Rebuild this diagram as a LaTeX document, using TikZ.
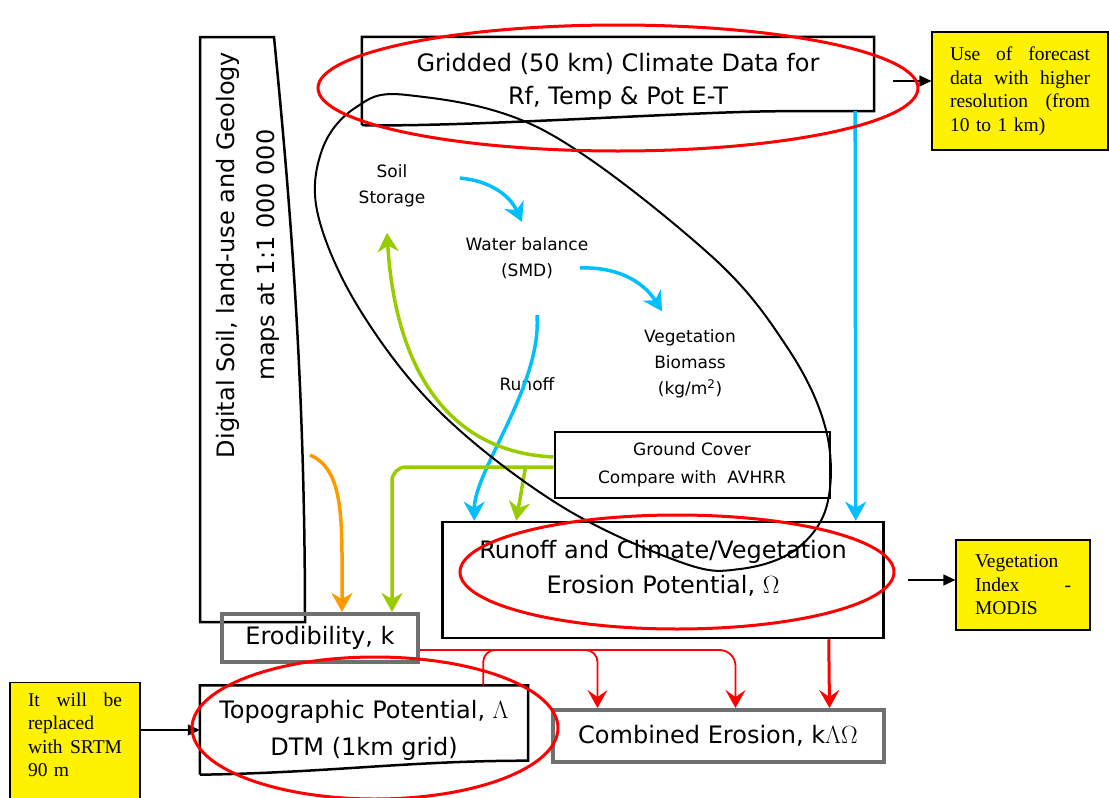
\documentclass[tikz,border=0pt]{standalone}
\usepackage{fontspec}
\setmainfont{Liberation Serif}
\newfontfamily\comic{DejaVu Sans}
\usetikzlibrary{arrows.meta}
\definecolor{skyb}{RGB}{0,191,255}
\definecolor{leaf}{RGB}{153,204,0}
\definecolor{amber}{RGB}{255,153,0}
\definecolor{boxgray}{RGB}{112,112,112}

\begin{document}
\begin{tikzpicture}[x=1pt,y=-1pt,>=Latex,
  bigtext/.style={font=\comic\fontsize{24}{33}\selectfont,align=center},
  smalltext/.style={font=\comic\fontsize{17}{26}\selectfont,align=center},
  blackbox/.style={draw,line width=2.5pt},
  greybox/.style={draw=boxgray,line width=4pt},
  note/.style={draw,line width=1.2pt,fill=yellow,font=\fontsize{19.5}{23.5}\selectfont,align=left,inner xsep=18pt},
  skyarr/.style={skyb,line width=3.5pt,-{Stealth[length=19pt,width=21pt,inset=6pt]}},
  leafarr/.style={leaf,line width=3.5pt,-{Stealth[length=19pt,width=21pt,inset=6pt]}},
  amberarr/.style={amber,line width=3.5pt,-{Stealth[length=19pt,width=21pt,inset=6pt]}},
  redarr/.style={red,line width=1.8pt,-{Stealth[length=18pt,width=20pt,inset=7pt]}},
  notearr/.style={line width=1.2pt,-{Triangle[length=12pt,width=11pt]}},
  ring/.style={red,line width=3pt}]
\useasboundingbox (0,0) rectangle (1109,798);
\clip (0,0) rectangle (1109,798);

\node[bigtext,minimum width=512pt,minimum height=88pt] (clim) at (618,81) {Gridded (50 km) Climate Data for\\Rf, Temp \& Pot E-T};
\draw[blackbox] (clim.south west) -- (clim.north west) -- (clim.north east) -- ([yshift=14pt]clim.south east) -- ++(-90,0) .. controls +(-90,0) and +(110,2) .. (clim.south west);
\node[bigtext,rotate=90,font=\comic\fontsize{24}{40}\selectfont] (digi) at (248,255) {Digital Soil, land-use and Geology\\maps at 1:1 000 000};
\draw[blackbox] (200,37) -- (274,37) .. controls (290,200) and (305,380) .. (305,622) -- (200,622) -- cycle;
\coordinate (digiout) at (310,455);

\node[smalltext] (soil) at (392,186) {Soil\\Storage};
\node[smalltext] (wb) at (527,258) {Water balance\\(SMD)};
\node[smalltext] (veg) at (690,364) {Vegetation\\Biomass\\(kg/m\textsuperscript{2})};
\node[smalltext] (runoff) at (527,384) {Runoff};
\node[smalltext,draw,line width=2pt,minimum width=275pt,minimum height=66pt,font=\comic\fontsize{17}{28}\selectfont] (gc) at (692,465) {Ground Cover\\Compare with~~AVHRR};
\node[bigtext,blackbox,minimum width=441pt,minimum height=116pt,text depth=26pt,font=\comic\fontsize{24}{35}\selectfont] (ero) at (663,580) {Runoff and Climate/Vegetation\\Erosion Potential, $\Omega$};
\node[bigtext,greybox,minimum width=196pt,minimum height=48pt] (erod) at (320,638) {Erodibility, k};
\node[bigtext,minimum width=328pt,minimum height=89pt,font=\comic\fontsize{24}{37}\selectfont] (topo) at (364,730) {Topographic Potential, $\Lambda$\\DTM (1km grid)};
\draw[blackbox] (topo.south west) -- (topo.north west) -- (topo.north east) -- ([yshift=14pt]topo.south east) .. controls +(-120,0) and +(130,-2) .. (topo.south west);
\node[bigtext,greybox,minimum width=331pt,minimum height=52pt] (comb) at (718,736) {Combined Erosion, k$\Lambda\Omega$};

\node[note,text width=140pt,minimum height=118pt] (fc) at (1020,91) {Use\hfill of\hfill forecast\\data\hfill with\hfill higher\\resolution\hfill (from\\10 to 1 km)};
\node[note,text width=96pt,inner xsep=19pt,minimum height=90pt] (ndvi) at (1023,585) {Vegetation\\Index\hfill -\\MODIS};
\node[note,text width=94pt,inner ysep=10pt,text depth=115pt,anchor=north] (srtm) at (75,682) {It\hfill will\hfill be\\replaced\\with\hfill SRTM\\90 m};

\draw[skyarr] ([xshift=31pt,yshift=8pt]soil.east) to[bend left=30] ([xshift=-5pt,yshift=12pt]wb.north);
\draw[skyarr] ([xshift=-12pt,yshift=-10pt]wb.east) to[bend left=30] ([xshift=-28pt,yshift=15pt]veg.north);
\draw[skyarr] ([xshift=10pt,yshift=-33pt]wb.south) .. controls +(5,70) and +(0,-50) .. ([xshift=33pt]ero.north west);
\draw[skyarr] ([xshift=-19pt,yshift=14pt]clim.south east) -- ([xshift=-29pt]ero.north east);
\draw[leafarr] ([yshift=8pt]gc.west) .. controls +(-110,-5) and +(8,130) .. ([xshift=-5pt,yshift=-22pt]soil.south);
\draw[leafarr,rounded corners=14pt] ([yshift=-2pt]gc.west) -| ([xshift=72pt]erod.north);
\draw[leafarr] ([xshift=-28pt,yshift=-2pt]gc.west) -- ([xshift=75pt]ero.north west);
\draw[amberarr] (digiout) .. controls +(35,15) and +(0,-90) .. ([xshift=22pt]erod.north);
\draw[redarr,line width=3pt] ([xshift=-56pt]ero.south east) -- ([xshift=-56pt]comb.north east);
\draw[redarr,rounded corners=16pt] ([yshift=-12pt]erod.east) -| ([xshift=185pt]comb.north west);
\draw[redarr,rounded corners=12pt] ([xshift=-45pt]topo.north east) |- ([xshift=122pt,yshift=-12pt]erod.east) -| ([xshift=47pt]comb.north west);
\draw[notearr] ([xshift=19pt]clim.east) -- (clim.east -| fc.west);
\draw[notearr] ([xshift=23pt]ero.east) -- (ero.east -| ndvi.west);
\draw[notearr] (srtm.east |- topo.west) -- (topo.west);

\draw[line width=2pt] plot[smooth cycle,tension=0.6] coordinates {(407,95) (543,130) (708,253) (787,347) (826,430) (827,505) (795,550) (740,569) (683,563) (561,506) (441,413) (360,310) (318,215) (322,150) (355,108)};
\draw[ring] (618,88) ellipse [x radius=300, y radius=63];
\draw[ring] (677,572) ellipse [x radius=217, y radius=57];
\draw[ring] (375,728) ellipse [x radius=183, y radius=71];
\end{tikzpicture}
\end{document}
